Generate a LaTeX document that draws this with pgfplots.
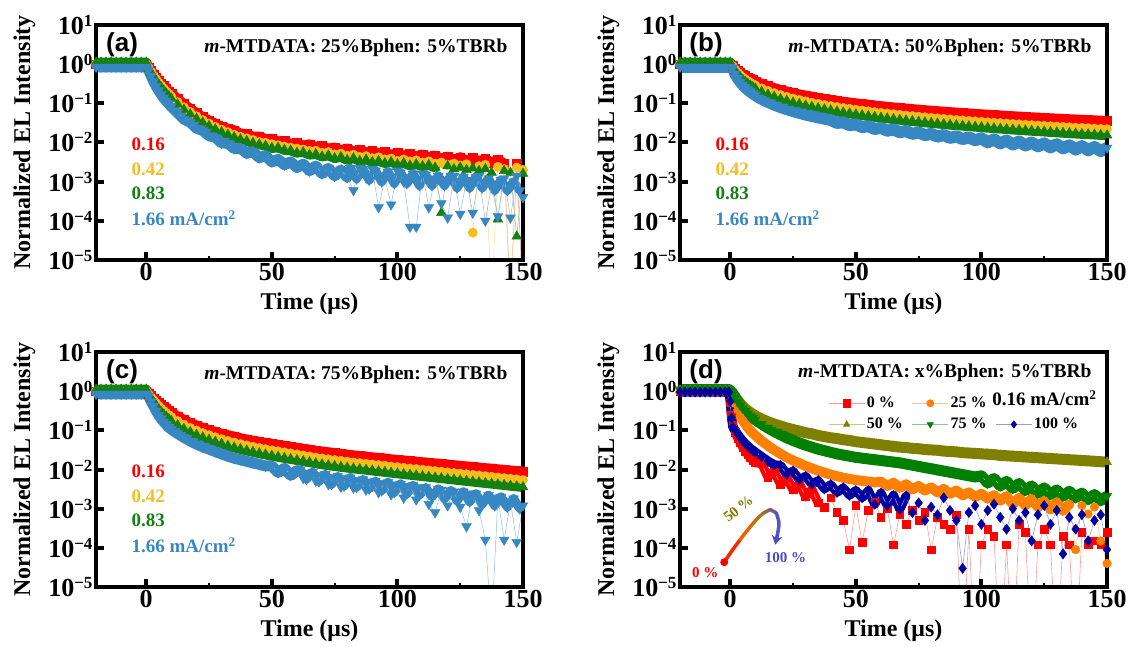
\documentclass[border=0pt]{standalone}
\usepackage{fontspec}
\setmainfont{Liberation Serif}
\setsansfont{Liberation Sans}
\usepackage{pgfplots}
\pgfplotsset{compat=1.18}
\usepackage{pgfplotstable}
\usetikzlibrary{arrows.meta}

\definecolor{cR}{RGB}{255,0,0}
\definecolor{cY}{RGB}{245,190,30}
\definecolor{cG}{RGB}{20,128,20}
\definecolor{cB}{RGB}{55,135,195}
\definecolor{cO}{RGB}{255,128,0}
\definecolor{cOl}{RGB}{128,128,0}
\definecolor{cGd}{RGB}{0,128,0}
\definecolor{cN}{RGB}{0,0,160}
\definecolor{ar1}{RGB}{245,40,0}
\definecolor{ar2}{RGB}{230,100,0}
\definecolor{ar3}{RGB}{175,120,20}
\definecolor{ar4}{RGB}{140,110,80}
\definecolor{ar5}{RGB}{110,95,150}
\definecolor{ar6}{RGB}{85,85,190}
\definecolor{ar7}{RGB}{75,75,200}

\newcommand{\tp}[1]{10\raisebox{8pt}{\fontsize{17}{17}\selectfont #1}}
% thick band under a series: colour, column, table, last x, width
\newcommand{\band}[5]{\addplot[#1, line width=#5, line join=round, line cap=round, no marks, forget plot, restrict x to domain=-20:#4] table[x=t,y=#2]{#3};}

\tikzset{
  labT/.style={font=\fontsize{19}{19}\selectfont\bfseries, anchor=west},
  ttlT/.style={font=\fontsize{19.5}{20}\selectfont\bfseries, anchor=east},
  panT/.style={font=\sffamily\bfseries\fontsize{26}{26}\selectfont, anchor=center},
}

\pgfplotsset{
  myPanel/.style={
    scale only axis, width=427pt, height=235pt, anchor=south west,
    xmin=-20, xmax=150, ymin=1e-5, ymax=10,
    axis on top,
    axis line style={line width=4.5pt, line cap=rect},
    tick align=inside, tick pos=left,
    xtick={0,50,100,150}, xticklabels={0,50,100,150},
    minor xtick={25,75,125},
    ytick={1e-5,1e-4,1e-3,1e-2,1e-1,1,10},
    yticklabels={\tp{−5},\tp{−4},\tp{−3},\tp{−2},\tp{−1},\tp{0},\tp{1}},
    yminorticks=false,
    major tick length=8pt, minor tick length=4.5pt,
    major tick style={line width=4pt, black},
    minor tick style={line width=2pt, black},
    tick label style={font=\fontsize{26}{26}\selectfont\bfseries, black},
    label style={font=\fontsize{24}{24}\selectfont\bfseries},
    xlabel={Time (μs)}, ylabel={Normalized EL Intensity},
    xlabel style={at={(axis description cs:0.5,-0.187)}, anchor=center},
    ylabel style={at={(axis description cs:-0.168,0.5)}, anchor=center},
  },
  sR/.style={color=cR!45, line width=0.5pt, mark=square*, mark size=4.4pt, mark options={solid, draw=cR, fill=cR}},
  sY/.style={color=cY!50, line width=0.5pt, mark=*, mark size=4.6pt, mark options={solid, draw=cY, fill=cY}},
  sG/.style={color=cG!45, line width=0.5pt, mark=triangle*, mark size=5.6pt, mark options={solid, draw=cG, fill=cG}},
  sB/.style={color=cB!55, line width=0.5pt, mark=triangle*, mark size=5.6pt, mark options={solid, draw=cB, fill=cB, rotate=180}},
  dA/.style={color=cR!40, line width=0.6pt, mark=square*, mark size=3.8pt, mark options={solid, draw=cR, fill=cR}},
  dB/.style={color=cO!45, line width=0.6pt, mark=*, mark size=4.2pt, mark options={solid, draw=cO, fill=cO}},
  dC/.style={color=cOl!45, line width=0.6pt, mark=triangle*, mark size=5.2pt, mark options={solid, draw=cOl, fill=cOl}},
  dD/.style={color=cGd!45, line width=0.6pt, mark=triangle*, mark size=5.2pt, mark options={solid, draw=cGd, fill=cGd, rotate=180}},
  dE/.style={color=cN!40, line width=0.6pt, mark=diamond*, mark size=5pt, mark options={solid, draw=cN, fill=cN}},
}

% ---------------- panel (a) ----------------
\pgfplotstableread{
t R Y G B
-20 1.0 1.0 1.1 0.85
-18 1.0 1.0 1.1 0.85
-16 1.0 1.0 1.1 0.85
-14 1.0 1.0 1.1 0.85
-12 1.0 1.0 1.1 0.85
-10 1.0 1.0 1.1 0.85
-8 1.0 1.0 1.1 0.85
-6 1.0 1.0 1.1 0.85
-4 1.0 1.0 1.1 0.85
-2 1.0 1.0 1.1 0.85
0 1.0 1.0 1.1 0.85
1 0.832 0.804 0.782 0.708
2 0.676 0.632 0.604 0.501
3 0.550 0.501 0.470 0.363
4 0.457 0.409 0.377 0.275
5 0.380 0.335 0.305 0.214
6 0.324 0.281 0.254 0.170
7 0.275 0.237 0.212 0.138
8 0.234 0.200 0.179 0.115
9 0.204 0.174 0.154 0.0977
10 0.178 0.150 0.133 0.0832
12.5 0.129 0.108 0.0948 0.0575
15 0.0955 0.0796 0.0697 0.0395
17.5 0.0724 0.0604 0.0528 0.0330
20 0.0562 0.0469 0.0410 0.0232
22.5 0.0447 0.0372 0.0326 0.0203
25 0.0363 0.0303 0.0265 0.0149
27.5 0.0302 0.0251 0.0218 0.0136
30 0.0257 0.0212 0.0185 0.0098
32.5 0.0224 0.0184 0.0159 0.0096
35 0.0205 0.0159 0.0137 0.0070
37.5 0.0168 0.0141 0.0121 0.0072
40 0.0166 0.0128 0.0110 0.0053
42.5 0.0140 0.0116 0.0098 0.0058
45 0.0142 0.0103 0.0090 0.0041
47.5 0.0121 0.0099 0.0083 0.0046
50 0.0125 0.0091 0.0073 0.0032
52.5 0.0106 0.0085 0.0074 0.0037
55 0.0109 0.0079 0.0065 0.0027
57.5 0.0091 0.0074 0.0063 0.0032
60 0.0098 0.0070 0.0055 0.0023
62.5 0.0083 0.0066 0.0057 0.0028
65 0.0090 0.0061 0.0049 0.0019
67.5 0.0076 0.0062 0.0051 0.0025
70 0.0082 0.0055 0.0044 0.0016
72.5 0.0069 0.0057 0.0047 0.0022
75 0.0075 0.0050 0.0040 0.0014
77.5 0.0063 0.0052 0.0043 0.0020
80 0.0071 0.0046 0.0036 0.0013
82.5 0.0059 0.0049 0.0040 0.0006
85 0.0066 0.0043 0.0034 0.0022
87.5 0.0055 0.0045 0.0037 0.0014
90 0.0061 0.0040 0.0032 0.0021
92.5 0.0052 0.0042 0.0034 0.00022
95 0.0057 0.0037 0.0030 0.0012
97.5 0.0048 0.0039 0.0032 0.00026
100 0.0054 0.0034 0.0028 0.0019
102.5 0.0046 0.0037 0.0030 0.0010
105 0.0051 0.0033 0.0026 0.00007
107.5 0.0043 0.0035 0.0028 0.00007
110 0.0050 0.0031 0.0025 0.0016
112.5 0.0041 0.0033 0.0027 0.00022
115 0.0047 0.0029 0.0023 0.0012
117.5 0.0038 0.0031 0.00016 0.00028
120 0.0044 0.0027 0.0025 0.00012
122.5 0.0036 0.0029 0.0021 0.0014
125 0.0042 0.0026 0.0023 0.00015
127.5 0.0034 0.0028 0.0020 0.0011
130 0.0040 0.00005 0.0022 0.00016
132.5 0.0033 0.0025 0.0019 0.0014
135 0.0038 0.0027 0.0021 0.0001
137.5 0.0031 0.000001 0.0017 0.0008
140 0.0036 0.0024 0.00011 0.00013
142.5 0.0029 0.0021 0.0019 0.0012
145 0.000001 0.000001 0.0017 0.00012
147.5 0.0028 0.0023 0.00004 0.0014
150 0.000001 0.0020 0.0016 0.0004
}\tabA
\pgfplotstableread{
t B
81.25 0.0022
83.75 0.0012
86.25 0.0021
88.75 0.0011
91.25 0.0019
93.75 0.0010
96.25 0.0018
98.75 0.0009
101.25 0.0017
103.75 0.0009
106.25 0.0016
108.75 0.0008
111.25 0.0015
113.75 0.0008
116.25 0.0014
118.75 0.0008
121.25 0.0014
123.75 0.0007
126.25 0.0013
128.75 0.0007
131.25 0.0013
133.75 0.0007
136.25 0.0012
138.75 0.0006
141.25 0.0011
143.75 0.0006
146.25 0.0010
148.75 0.0006
}\tabAx

% ---------------- panel (b) ----------------
\pgfplotstableread{
t R Y G B
-20 1.0 1.0 1.1 0.85
-18 1.0 1.0 1.1 0.85
-16 1.0 1.0 1.1 0.85
-14 1.0 1.0 1.1 0.85
-12 1.0 1.0 1.1 0.85
-10 1.0 1.0 1.1 0.85
-8 1.0 1.0 1.1 0.85
-6 1.0 1.0 1.1 0.85
-4 1.0 1.0 1.1 0.85
-2 1.0 1.0 1.1 0.85
0 1.0 1.0 1.1 0.85
1 0.917 0.881 0.857 0.805
2 0.786 0.714 0.667 0.574
3 0.688 0.603 0.547 0.443
4 0.611 0.521 0.463 0.359
5 0.550 0.458 0.402 0.301
6 0.500 0.410 0.354 0.258
7 0.458 0.370 0.316 0.225
8 0.423 0.337 0.286 0.200
9 0.393 0.310 0.261 0.179
10 0.367 0.287 0.240 0.162
12.5 0.314 0.241 0.199 0.130
15 0.275 0.208 0.169 0.109
17.5 0.244 0.183 0.148 0.0927
20 0.220 0.163 0.130 0.0805
22.5 0.200 0.147 0.117 0.0711
25 0.183 0.133 0.105 0.0634
27.5 0.169 0.122 0.0962 0.0571
30 0.157 0.113 0.0883 0.0519
32.5 0.147 0.104 0.0817 0.0475
35 0.1375 0.0975 0.0759 0.0438
37.5 0.129 0.0912 0.0706 0.0405
40 0.122 0.0857 0.0662 0.0376
42.5 0.116 0.0809 0.0622 0.0316
45 0.110 0.0764 0.0586 0.0328
47.5 0.105 0.0726 0.0555 0.0277
50 0.100 0.0690 0.0525 0.0290
52.5 0.0957 0.0658 0.0500 0.0247
55 0.0917 0.0627 0.0475 0.0262
57.5 0.0880 0.0600 0.0453 0.0221
60 0.0846 0.0574 0.0432 0.0236
62.5 0.0815 0.0552 0.0415 0.0200
65 0.0786 0.0530 0.0397 0.0215
67.5 0.0759 0.0510 0.0382 0.0182
70 0.0733 0.0492 0.0366 0.0197
72.5 0.0710 0.0474 0.0353 0.0166
75 0.0688 0.0458 0.0340 0.0181
77.5 0.0667 0.0443 0.0328 0.0154
80 0.0647 0.0429 0.0317 0.0166
82.5 0.0629 0.0415 0.0306 0.0142
85 0.0611 0.0402 0.0296 0.0155
87.5 0.0595 0.0390 0.0286 0.0131
90 0.0579 0.0379 0.0278 0.0144
92.5 0.0564 0.0368 0.0269 0.0122
95 0.0550 0.0358 0.0261 0.0135
97.5 0.0537 0.0348 0.0254 0.0114
100 0.0524 0.0339 0.0247 0.0128
102.5 0.0512 0.0330 0.0240 0.0101
105 0.0500 0.0322 0.0233 0.0120
107.5 0.0489 0.0314 0.0227 0.0095
110 0.0478 0.0306 0.0221 0.0112
112.5 0.0468 0.0299 0.0215 0.0089
115 0.0458 0.0292 0.0210 0.0106
117.5 0.0449 0.0285 0.0205 0.0084
120 0.0440 0.0279 0.0200 0.0100
122.5 0.0431 0.0273 0.0195 0.0080
125 0.0423 0.0267 0.0191 0.0095
127.5 0.0415 0.0261 0.0186 0.0075
130 0.0407 0.0256 0.0182 0.0090
132.5 0.0400 0.0251 0.0178 0.0071
135 0.0393 0.0245 0.0174 0.0085
137.5 0.0386 0.0240 0.0170 0.0066
140 0.0379 0.0236 0.0166 0.0081
142.5 0.0373 0.0232 0.0163 0.0063
145 0.0367 0.0227 0.0160 0.0077
147.5 0.0361 0.0223 0.0156 0.0060
150 0.0355 0.0219 0.0153 0.0073
}\tabB

% ---------------- panel (c) ----------------
\pgfplotstableread{
t R Y G B
-20 1.0 1.0 1.1 0.85
-18 1.0 1.0 1.1 0.85
-16 1.0 1.0 1.1 0.85
-14 1.0 1.0 1.1 0.85
-12 1.0 1.0 1.1 0.85
-10 1.0 1.0 1.1 0.85
-8 1.0 1.0 1.1 0.85
-6 1.0 1.0 1.1 0.85
-4 1.0 1.0 1.1 0.85
-2 1.0 1.0 1.1 0.85
0 1.0 1.0 1.1 0.85
1 0.871 0.834 0.804 0.741
2 0.759 0.695 0.646 0.550
3 0.661 0.583 0.525 0.417
4 0.575 0.490 0.427 0.316
5 0.501 0.413 0.351 0.245
6 0.442 0.356 0.296 0.200
7 0.394 0.312 0.255 0.166
8 0.351 0.274 0.222 0.141
9 0.316 0.244 0.195 0.120
10 0.285 0.219 0.175 0.107
12.5 0.226 0.173 0.137 0.0832
15 0.184 0.140 0.110 0.0661
17.5 0.155 0.116 0.0912 0.0537
20 0.133 0.0993 0.0771 0.0447
22.5 0.116 0.0859 0.0664 0.0380
25 0.102 0.0755 0.0582 0.0331
27.5 0.0912 0.0668 0.0513 0.0288
30 0.0822 0.0597 0.0454 0.0251
32.5 0.0750 0.0538 0.0405 0.0219
35 0.0692 0.0491 0.0367 0.0195
37.5 0.0631 0.0448 0.0335 0.0178
40 0.0582 0.0412 0.0307 0.0162
42.5 0.0543 0.0382 0.0283 0.0148
45 0.0507 0.0355 0.0261 0.0135
47.5 0.0479 0.0332 0.0243 0.0123
50 0.0452 0.0310 0.0225 0.0123
52.5 0.0427 0.0292 0.0211 0.0084
55 0.0403 0.0275 0.0198 0.0107
57.5 0.0380 0.0259 0.0186 0.0071
60 0.0359 0.0243 0.0175 0.0094
62.5 0.0339 0.0229 0.0164 0.0060
65 0.0320 0.0216 0.0154 0.0082
67.5 0.0302 0.0203 0.0145 0.0051
70 0.0288 0.0192 0.0136 0.0072
72.5 0.0275 0.0183 0.0129 0.0042
75 0.0263 0.0175 0.0123 0.0064
77.5 0.0251 0.0167 0.0117 0.0036
80 0.0240 0.0159 0.0112 0.0059
82.5 0.0229 0.0152 0.0107 0.0034
85 0.0221 0.0146 0.0103 0.0053
87.5 0.0214 0.0141 0.00989 0.0030
90 0.0204 0.0135 0.00944 0.0049
92.5 0.0197 0.0130 0.00906 0.0026
95 0.0191 0.0125 0.00871 0.0045
97.5 0.0182 0.0119 0.00832 0.0023
100 0.0176 0.0115 0.00798 0.0041
102.5 0.0170 0.0111 0.00767 0.0019
105 0.0164 0.0106 0.00736 0.0038
107.5 0.0158 0.0103 0.00708 0.0017
110 0.0153 0.00989 0.00679 0.0035
112.5 0.0148 0.00951 0.00653 0.0013
115 0.0143 0.00916 0.00627 0.0008
117.5 0.0138 0.00883 0.00603 0.0030
120 0.0133 0.00849 0.00578 0.0012
122.5 0.0129 0.00818 0.00556 0.0027
125 0.0124 0.00789 0.00533 0.0011
127.5 0.0120 0.00759 0.00513 0.00035
130 0.0116 0.00731 0.00492 0.0024
132.5 0.0112 0.00703 0.00473 0.0009
135 0.0108 0.00678 0.00454 0.00016
137.5 0.0105 0.00653 0.00437 0.000001
140 0.0101 0.00628 0.00419 0.0019
142.5 0.00977 0.00605 0.00403 0.00016
145 0.00944 0.00583 0.00386 0.0015
147.5 0.00912 0.00561 0.00372 0.00014
150 0.00881 0.00541 0.00356 0.0012
}\tabC
\pgfplotstableread{
t B
61.25 0.0099
63.75 0.0056
66.25 0.0087
68.75 0.0049
71.25 0.0076
73.75 0.0042
76.25 0.0067
78.75 0.0038
81.25 0.0062
83.75 0.0035
86.25 0.0056
88.75 0.0032
91.25 0.0051
93.75 0.0029
96.25 0.0047
98.75 0.0026
101.25 0.0043
103.75 0.0024
106.25 0.0039
108.75 0.0022
111.25 0.0035
113.75 0.0020
116.25 0.0032
118.75 0.0018
121.25 0.0029
123.75 0.0016
126.25 0.0027
128.75 0.0015
131.25 0.0024
133.75 0.0013
136.25 0.0022
138.75 0.0012
141.25 0.0020
143.75 0.0011
146.25 0.0018
148.75 0.0010
}\tabCx

% ---------------- panel (d) ----------------
\pgfplotstableread{
t A B C D E
-20 1.0 1.0 1.05 1.1 0.95
-18 1.0 1.0 1.05 1.1 0.95
-16 1.0 1.0 1.05 1.1 0.95
-14 1.0 1.0 1.05 1.1 0.95
-12 1.0 1.0 1.05 1.1 0.95
-10 1.0 1.0 1.05 1.1 0.95
-8 1.0 1.0 1.05 1.1 0.95
-6 1.0 1.0 1.05 1.1 0.95
-4 1.0 1.0 1.05 1.1 0.95
-2 1.0 1.0 1.05 1.1 0.95
-0.5 1.0 1.0 1.05 1.1 0.95
0 0.5 1.0 1.0 1.0 0.55
0.5 0.25 0.85 0.95 0.95 0.21
1 0.14 0.71 0.871 0.851 0.12
2 0.089 0.479 0.708 0.676 0.10
3 0.063 0.331 0.575 0.537 0.079
4 0.048 0.240 0.479 0.437 0.065
5 0.037 0.182 0.407 0.363 0.054
6 0.0295 0.145 0.355 0.309 0.046
7 0.024 0.117 0.316 0.269 0.040
8 0.020 0.0977 0.282 0.234 0.035
9 0.017 0.0851 0.257 0.209 0.031
10 0.0148 0.0741 0.234 0.186 0.028
12.5 0.0143 0.0537 0.195 0.145 0.0214
15 0.0064 0.0407 0.166 0.115 0.0166
17.5 0.0088 0.0316 0.145 0.0933 0.0132
20 0.0042 0.0251 0.129 0.0776 0.0128
22.5 0.0062 0.0204 0.115 0.0646 0.0076
25 0.0030 0.0170 0.105 0.0550 0.0091
27.5 0.0044 0.0145 0.0955 0.0479 0.0055
30 0.0020 0.0123 0.0871 0.0417 0.0067
32.5 0.0031 0.0107 0.0813 0.0372 0.0042
35 0.0014 0.00933 0.0741 0.0331 0.0052
37.5 0.0011 0.00832 0.0692 0.0302 0.0032
40 0.0019 0.00741 0.0646 0.0275 0.0041
42.5 0.0008 0.00676 0.0617 0.0251 0.0026
45 0.0005 0.00617 0.0575 0.0234 0.0034
47.5 0.00009 0.00575 0.0550 0.0219 0.0022
50 0.0012 0.00537 0.0513 0.0204 0.0029
52.5 0.00014 0.00513 0.0490 0.0195 0.0019
55 0.0009 0.0049 0.0468 0.0186 0.0029
57.5 0.0015 0.00468 0.0447 0.0178 0.0013
60 0.0006 0.0049 0.0427 0.0170 0.0025
62.5 0.0010 0.0038 0.0407 0.0162 0.0012
65 0.00012 0.0046 0.0389 0.0155 0.0022
67.5 0.0007 0.0034 0.0372 0.0148 0.00096
70 0.0004 0.0042 0.0363 0.0138 0.0021
72.5 0.0009 0.0031 0.0347 0.0129 0.0008
75 0.0005 0.0038 0.0339 0.0120 0.0014
77.5 0.0008 0.0029 0.0324 0.0112 0.0005
80 0.00009 0.0035 0.0316 0.0105 0.0011
82.5 0.0006 0.0026 0.0309 0.00977 0.0007
85 0.0004 0.0032 0.0295 0.00912 0.0019
87.5 0.0003 0.0024 0.0288 0.00851 0.0009
90 0.0007 0.0029 0.0282 0.00794 0.0005
92.5 0.0000001 0.0022 0.0269 0.00741 0.00003
95 0.0003 0.0026 0.0263 0.00692 0.0008
97.5 0.0000001 0.0020 0.0257 0.00646 0.0012
100 0.00012 0.0024 0.0251 0.0069 0.0004
102.5 0.0003 0.0018 0.0245 0.0045 0.0009
105 0.0002 0.0022 0.0240 0.0059 0.0013
107.5 0.0000001 0.0016 0.0229 0.0038 0.0006
110 0.00012 0.0021 0.0224 0.0050 0.0003
112.5 0.0000001 0.0013 0.0219 0.0033 0.0010
115 0.0004 0.0019 0.0214 0.0044 0.0005
117.5 0.00025 0.0012 0.0209 0.0029 0.0008
120 0.0000001 0.0018 0.0204 0.0038 0.00015
122.5 0.00012 0.0011 0.0200 0.0025 0.0007
125 0.0003 0.0016 0.0195 0.0034 0.0012
127.5 0.00012 0.00097 0.0191 0.0023 0.0004
130 0.0000001 0.0015 0.0186 0.0030 0.0009
132.5 0.0002 0.00088 0.0182 0.0021 0.00007
135 0.00012 0.0013 0.0178 0.0028 0.0006
137.5 0.0000001 0.00009 0.0174 0.0019 0.0003
140 0.00025 0.0012 0.0170 0.0025 0.0007
142.5 0.00012 0.00073 0.0166 0.0017 0.00015
145 0.00015 0.0011 0.0162 0.0023 0.0005
147.5 0.00012 0.00015 0.0158 0.0016 0.0007
150 0.00025 0.00004 0.0155 0.0021 0.00009
}\tabD

\begin{document}
\begin{tikzpicture}
\useasboundingbox (0pt,0pt) rectangle (1134pt,647pt);

% (a)
\begin{axis}[ymode=log, myPanel, at={(96pt,387pt)}]
\band{cR}{R}{\tabA}{142.5}{10pt}
\addplot[sR] table[x=t,y=R]{\tabA};
\band{cY}{Y}{\tabA}{127.5}{10pt}
\addplot[sY] table[x=t,y=Y]{\tabA};
\band{cG}{G}{\tabA}{115}{10pt}
\addplot[sG] table[x=t,y=G]{\tabA};
\band{cB}{B}{\tabA}{80}{11pt}
\band{cB}{B}{\tabAx}{150}{9pt}
\addplot[sB] table[x=t,y=B]{\tabA};
\addplot[sB, only marks] table[x=t,y=B]{\tabAx};
\node[panT] at (rel axis cs:0.061,0.915) {(a)};
\node[ttlT] at (rel axis cs:0.972,0.902) {\textit{m}-MTDATA: 25\%Bphen: 5\%TBRb};
\node[labT, text=cR] at (rel axis cs:0.075,0.494) {0.16};
\node[labT, text=cY] at (rel axis cs:0.075,0.387) {0.42};
\node[labT, text=cG] at (rel axis cs:0.075,0.285) {0.83};
\node[labT, text=cB] at (rel axis cs:0.075,0.179) {1.66 mA/cm\textsuperscript{2}};
\end{axis}

% (b)
\begin{axis}[ymode=log, myPanel, at={(680pt,387pt)}]
\band{cR}{R}{\tabB}{150}{10pt}
\addplot[sR] table[x=t,y=R]{\tabB};
\band{cY}{Y}{\tabB}{150}{10pt}
\addplot[sY] table[x=t,y=Y]{\tabB};
\band{cG}{G}{\tabB}{150}{10pt}
\addplot[sG] table[x=t,y=G]{\tabB};
\band{cB}{B}{\tabB}{150}{12pt}
\addplot[sB] table[x=t,y=B]{\tabB};
\node[panT] at (rel axis cs:0.061,0.915) {(b)};
\node[ttlT] at (rel axis cs:0.972,0.902) {\textit{m}-MTDATA: 50\%Bphen: 5\%TBRb};
\node[labT, text=cR] at (rel axis cs:0.075,0.494) {0.16};
\node[labT, text=cY] at (rel axis cs:0.075,0.387) {0.42};
\node[labT, text=cG] at (rel axis cs:0.075,0.285) {0.83};
\node[labT, text=cB] at (rel axis cs:0.075,0.179) {1.66 mA/cm\textsuperscript{2}};
\end{axis}

% (c)
\begin{axis}[ymode=log, myPanel, at={(96pt,60pt)}]
\band{cR}{R}{\tabC}{150}{10pt}
\addplot[sR] table[x=t,y=R]{\tabC};
\band{cY}{Y}{\tabC}{150}{10pt}
\addplot[sY] table[x=t,y=Y]{\tabC};
\band{cG}{G}{\tabC}{150}{10pt}
\addplot[sG] table[x=t,y=G]{\tabC};
\band{cB}{B}{\tabC}{60}{11pt}
\band{cB}{B}{\tabCx}{150}{9pt}
\addplot[sB] table[x=t,y=B]{\tabC};
\addplot[sB, only marks] table[x=t,y=B]{\tabCx};
\node[panT] at (rel axis cs:0.061,0.915) {(c)};
\node[ttlT] at (rel axis cs:0.972,0.902) {\textit{m}-MTDATA: 75\%Bphen: 5\%TBRb};
\node[labT, text=cR] at (rel axis cs:0.075,0.494) {0.16};
\node[labT, text=cY] at (rel axis cs:0.075,0.387) {0.42};
\node[labT, text=cG] at (rel axis cs:0.075,0.285) {0.83};
\node[labT, text=cB] at (rel axis cs:0.075,0.179) {1.66 mA/cm\textsuperscript{2}};
\end{axis}

% (d)
\begin{axis}[ymode=log, myPanel, at={(680pt,60pt)},
  legend columns=3,
  legend cell align=left,
  legend style={at={(0.347,0.817)}, anchor=north west, draw=none, fill=none,
    font=\fontsize{16}{16}\selectfont\bfseries, inner sep=0pt, row sep=5pt,
    /tikz/every even column/.append style={column sep=7pt}},
  legend image code/.code={\draw[mark repeat=2,mark phase=2,mark size=3.6pt] plot coordinates {(0pt,0pt) (18pt,0pt) (36pt,0pt)};},
]
\band{cR}{A}{\tabD}{35}{9pt}
\addplot[dA] table[x=t,y=A]{\tabD};
\addlegendentry{0 \%}
\band{cO}{B}{\tabD}{135}{10pt}
\addplot[dB] table[x=t,y=B]{\tabD};
\addlegendentry{25 \%}
\addlegendimage{empty legend}
\addlegendentry{}
\band{cOl}{C}{\tabD}{150}{11pt}
\addplot[dC] table[x=t,y=C]{\tabD};
\addlegendentry{50 \%}
\band{cGd}{D}{\tabD}{150}{11pt}
\addplot[dD] table[x=t,y=D]{\tabD};
\addlegendentry{75 \%}
\band{cN}{E}{\tabD}{70}{9pt}
\addplot[dE] table[x=t,y=E]{\tabD};
\addlegendentry{100 \%}
\node[panT] at (rel axis cs:0.061,0.915) {(d)};
\node[ttlT] at (rel axis cs:0.972,0.91) {\textit{m}-MTDATA: x\%Bphen: 5\%TBRb};
\node[font=\fontsize{19}{19}\selectfont\bfseries, anchor=east] at (rel axis cs:0.984,0.804) {0.16 mA/cm\textsuperscript{2}};
\draw[line width=3.5pt, line cap=round, ar1] plot[smooth] coordinates {(axis cs:-2.4,4.3e-5) (axis cs:1,9e-5) (axis cs:4,1.63e-4)};
\draw[line width=3.5pt, line cap=round, ar2] plot[smooth] coordinates {(axis cs:4,1.63e-4) (axis cs:6.6,2.7e-4) (axis cs:9.3,4.35e-4)};
\draw[line width=3.5pt, line cap=round, ar3] plot[smooth] coordinates {(axis cs:9.3,4.35e-4) (axis cs:11.3,6e-4) (axis cs:13.3,7.8e-4)};
\draw[line width=3.5pt, line cap=round, ar4] plot[smooth] coordinates {(axis cs:13.3,7.8e-4) (axis cs:15.9,9.5e-4)};
\draw[line width=3.5pt, line cap=round, ar5] plot[smooth] coordinates {(axis cs:15.9,9.5e-4) (axis cs:18.3,7.8e-4)};
\draw[line width=3.5pt, line cap=round, ar6] plot[smooth] coordinates {(axis cs:18.3,7.8e-4) (axis cs:19.4,4.35e-4) (axis cs:18.8,2.18e-4)};
\draw[line width=3.5pt, ar7, -{Stealth[length=9pt,width=11pt]}] (axis cs:18.8,2.18e-4) -- (axis cs:17.9,1.21e-4);
\fill[cR] (axis cs:-2.4,4.3e-5) circle (4pt);
\node[font=\fontsize{15}{15}\selectfont\bfseries, text=cR] at (axis cs:-10,2.3e-5) {0 \%};
\node[font=\fontsize{15}{15}\selectfont\bfseries, text=cOl, rotate=38] at (axis cs:3.2,1.0e-3) {50\kern3pt\%};
\node[font=\fontsize{15}{15}\selectfont\bfseries, text=ar7] at (axis cs:22,5.5e-5) {100 \%};
\end{axis}
\end{tikzpicture}
\end{document}
